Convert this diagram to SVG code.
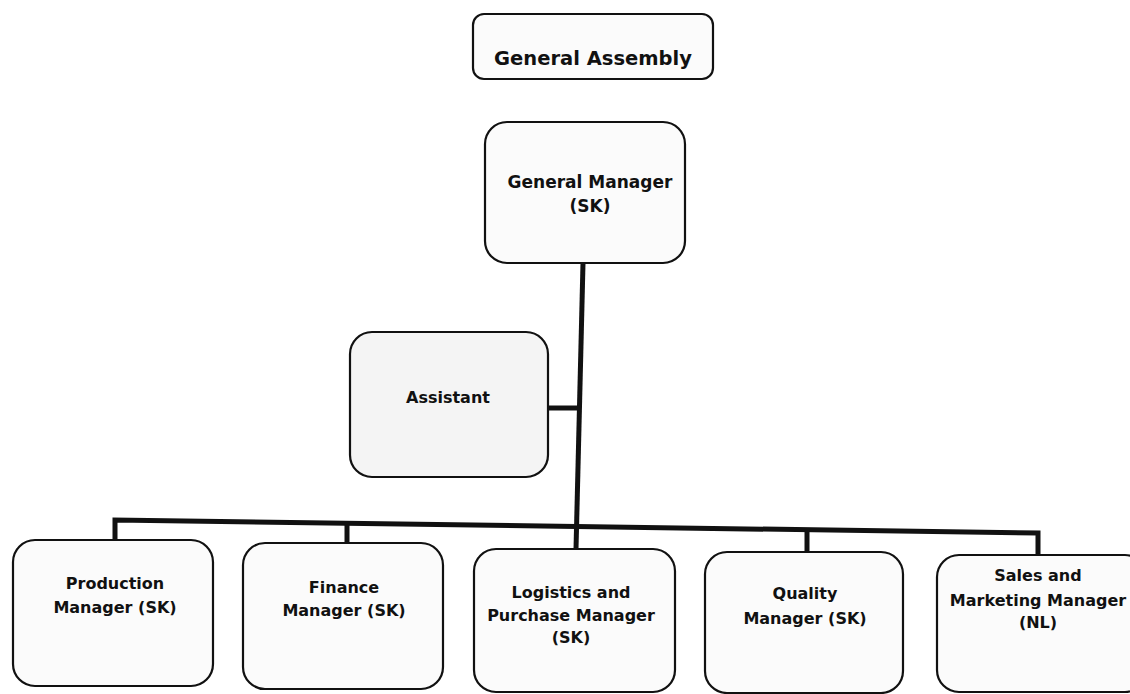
<svg xmlns="http://www.w3.org/2000/svg" width="1130" height="694" viewBox="0 0 1130 694">
<style>
.box{fill:#fbfbfb;stroke:#111;stroke-width:2.2}
.lbl{font-family:"DejaVu Sans",Verdana,sans-serif;font-weight:bold;font-size:16px;fill:#111;text-anchor:middle}
.big{font-size:19.5px}
.mid{font-size:17px}
.con{fill:none;stroke:#111;stroke-width:5;stroke-linejoin:miter;stroke-linecap:butt}
</style>
<rect width="1130" height="694" fill="#ffffff"/>
<g id="connectors">
<path class="con" d="M583,263 L576,549"/>
<path class="con" stroke-width="4" d="M548,408 L579,408"/>
<path class="con" d="M115,541 L115,520 L1038,533 L1038,556"/>
<path class="con" stroke-width="4.5" d="M347,524 L347,544"/>
<path class="con" stroke-width="4.5" d="M807,529 L807,553"/>
</g>
<g id="general-assembly">
<rect class="box" x="473" y="14" width="240" height="65" rx="11"/>
<text class="lbl big" x="593" y="65">General Assembly</text>
</g>
<g id="general-manager">
<rect class="box" x="485" y="122" width="200" height="141" rx="22"/>
<text class="lbl mid" x="590" y="188">General Manager</text>
<text class="lbl mid" x="590" y="212">(SK)</text>
</g>
<g id="assistant">
<rect class="box" x="350" y="332" width="198" height="145" rx="22" style="fill:#f4f4f4"/>
<text class="lbl" x="448" y="403">Assistant</text>
</g>
<g id="production-manager">
<rect class="box" x="13" y="540" width="200" height="146" rx="22"/>
<text class="lbl" x="115" y="589">Production</text>
<text class="lbl" x="115" y="613">Manager (SK)</text>
</g>
<g id="finance-manager">
<rect class="box" x="243" y="543" width="200" height="146" rx="22"/>
<text class="lbl" x="344" y="593">Finance</text>
<text class="lbl" x="344" y="616">Manager (SK)</text>
</g>
<g id="logistics-manager">
<rect class="box" x="474" y="549" width="201" height="143" rx="22"/>
<text class="lbl" x="571" y="598">Logistics and</text>
<text class="lbl" x="571" y="621">Purchase Manager</text>
<text class="lbl" x="571" y="643">(SK)</text>
</g>
<g id="quality-manager">
<rect class="box" x="705" y="552" width="198" height="141" rx="22"/>
<text class="lbl" x="805" y="599">Quality</text>
<text class="lbl" x="805" y="624">Manager (SK)</text>
</g>
<g id="sales-marketing-manager">
<rect class="box" x="937" y="555" width="210" height="137" rx="22"/>
<text class="lbl" x="1038" y="581">Sales and</text>
<text class="lbl" x="1038" y="606">Marketing Manager</text>
<text class="lbl" x="1038" y="628">(NL)</text>
</g>
</svg>
